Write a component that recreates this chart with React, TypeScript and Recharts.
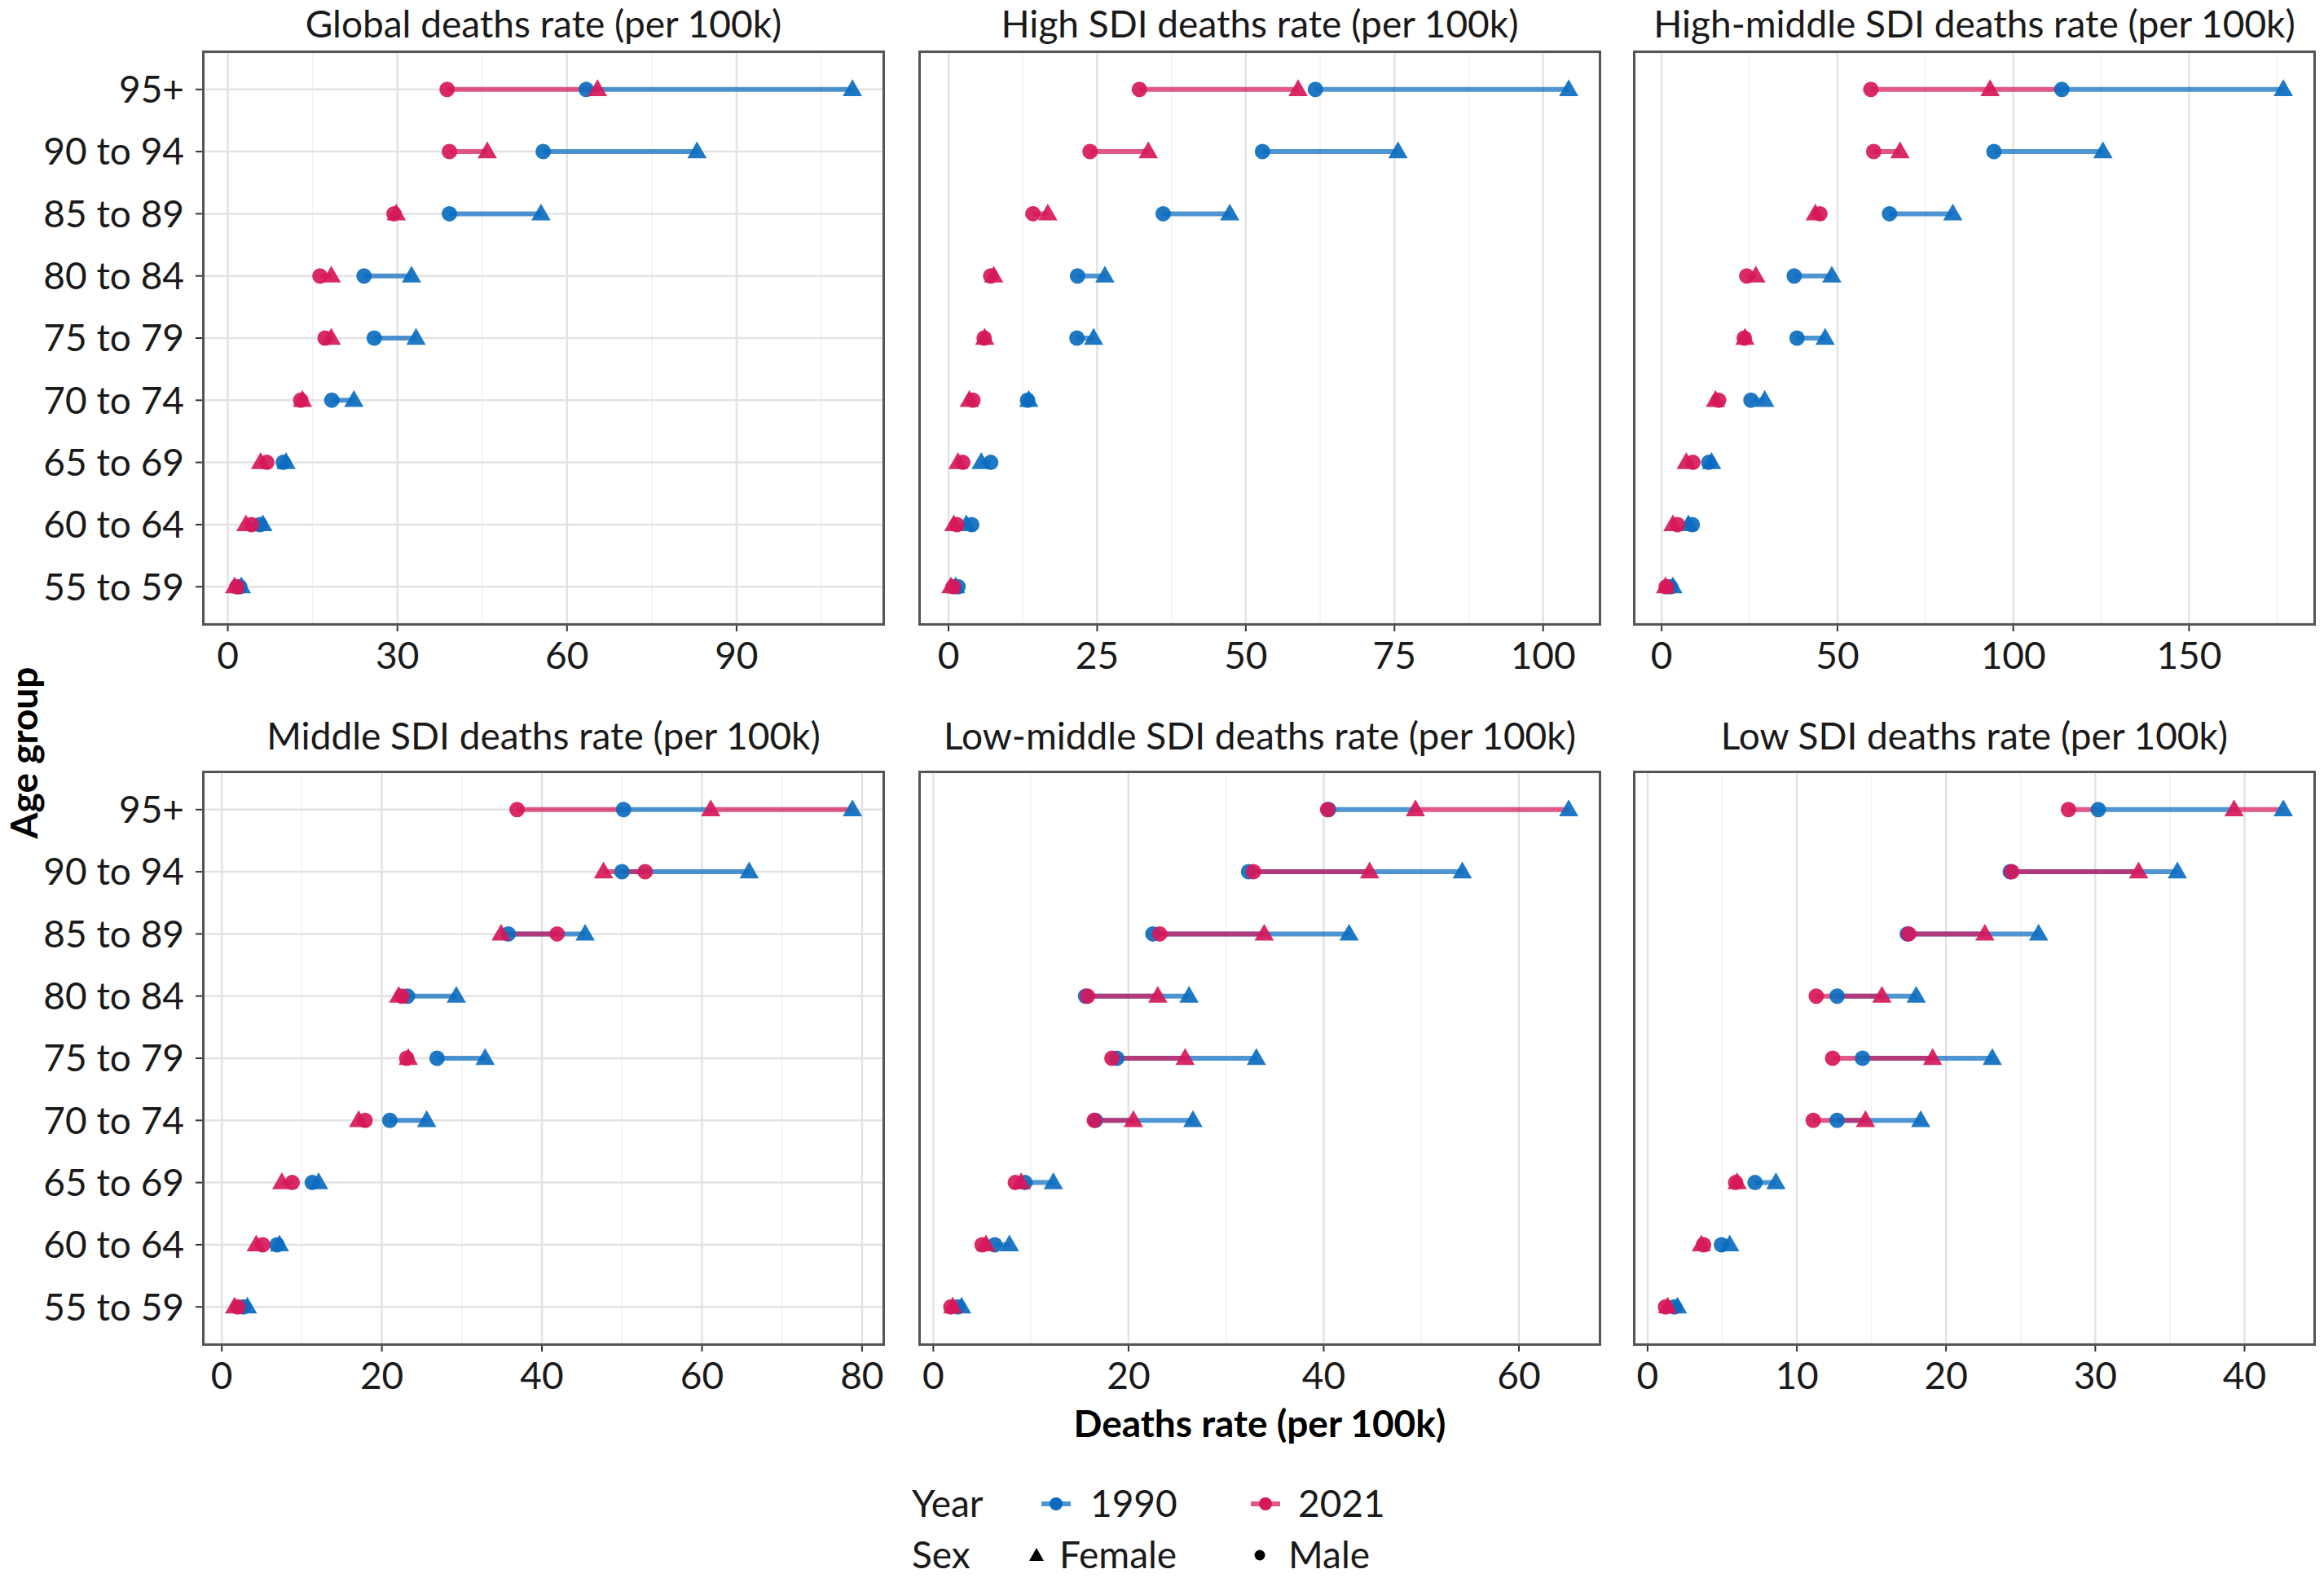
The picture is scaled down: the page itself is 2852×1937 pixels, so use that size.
import React from "react";
import { ScatterChart, Scatter, XAxis, YAxis, CartesianGrid } from "recharts";

// Deaths rate per 100k by age group, 95+ first
const AGE_GROUPS = ["95+", "90 to 94", "85 to 89", "80 to 84", "75 to 79", "70 to 74", "65 to 69", "60 to 64", "55 to 59"];

const GLOBAL_M1990 = [63.4, 55.8, 39.2, 24.1, 25.9, 18.4, 9.8, 5.7, 2.1];
const GLOBAL_F1990 = [110.5, 83.0, 55.4, 32.5, 33.3, 22.3, 10.3, 6.2, 2.4];
const GLOBAL_M2021 = [38.8, 39.2, 29.4, 16.3, 17.2, 12.9, 6.9, 4.2, 1.6];
const GLOBAL_F2021 = [65.4, 45.9, 29.8, 18.3, 18.3, 13.2, 5.8, 3.2, 1.2];

const HIGH_M1990 = [61.7, 52.8, 36.1, 21.7, 21.6, 13.3, 7.1, 3.9, 1.6];
const HIGH_F1990 = [104.3, 75.6, 47.3, 26.3, 24.4, 13.5, 5.5, 3.0, 1.2];
const HIGH_M2021 = [32.1, 23.8, 14.2, 7.1, 6.0, 4.1, 2.4, 1.4, 0.8];
const HIGH_F2021 = [58.8, 33.6, 16.7, 7.6, 6.1, 3.5, 1.6, 0.9, 0.4];

const HIGHMID_M1990 = [113.8, 94.5, 64.8, 37.7, 38.5, 25.4, 13.4, 8.7, 2.5];
const HIGHMID_F1990 = [176.8, 125.5, 82.8, 48.4, 46.5, 29.3, 14.2, 7.6, 3.2];
const HIGHMID_M2021 = [59.5, 60.3, 45.0, 24.2, 23.5, 16.2, 8.9, 4.5, 1.3];
const HIGHMID_F2021 = [93.4, 67.8, 43.7, 26.8, 23.7, 15.3, 7.0, 3.2, 1.1];

const MID_M1990 = [50.2, 50.0, 35.8, 23.2, 26.9, 21.0, 11.3, 6.9, 2.7];
const MID_F1990 = [78.8, 65.9, 45.4, 29.3, 32.9, 25.6, 12.1, 7.2, 3.2];
const MID_M2021 = [36.9, 52.9, 41.9, 22.5, 23.1, 17.9, 8.8, 5.1, 2.0];
const MID_F2021 = [61.1, 47.7, 34.9, 22.1, 23.3, 17.1, 7.5, 4.3, 1.6];

const LOWMID_M1990 = [40.5, 32.3, 22.5, 15.6, 18.8, 16.6, 9.4, 6.3, 2.5];
const LOWMID_F1990 = [65.1, 54.2, 42.6, 26.2, 33.1, 26.6, 12.3, 7.8, 2.9];
const LOWMID_M2021 = [40.4, 32.8, 23.2, 15.8, 18.3, 16.5, 8.4, 5.0, 1.8];
const LOWMID_F2021 = [49.4, 44.7, 33.9, 23.0, 25.8, 20.5, 9.0, 5.4, 2.0];

const LOW_M1990 = [30.2, 24.3, 17.4, 12.7, 14.4, 12.7, 7.2, 4.95, 1.8];
const LOW_F1990 = [42.6, 35.5, 26.2, 18.0, 23.1, 18.3, 8.6, 5.5, 2.0];
const LOW_M2021 = [28.2, 24.4, 17.5, 11.3, 12.4, 11.1, 5.9, 3.75, 1.2];
const LOW_F2021 = [39.3, 32.9, 22.6, 15.7, 19.1, 14.6, 6.0, 3.6, 1.35];

const GLOBAL_TICKS = [0, 30, 60, 90];
const GLOBAL_MINOR = [15, 45, 75, 105];
const HIGH_TICKS = [0, 25, 50, 75, 100];
const HIGH_MINOR = [12.5, 37.5, 62.5, 87.5];
const HIGHMID_TICKS = [0, 50, 100, 150];
const HIGHMID_MINOR = [25, 75, 125, 175];
const MID_TICKS = [0, 20, 40, 60, 80];
const MID_MINOR = [10, 30, 50, 70];
const LOWMID_TICKS = [0, 20, 40, 60];
const LOWMID_MINOR = [10, 30, 50];
const LOW_TICKS = [0, 10, 20, 30, 40];
const LOW_MINOR = [5, 15, 25, 35];

type Key = "m90" | "f90" | "m21" | "f21";
type Year = "1990" | "2021";
type Link = [Key, Key, Year];

// connecting segments as drawn in the figure; most rows join male and female of a year
const DEFAULT_LINKS: Link[] = [["m90", "f90", "1990"], ["m21", "f21", "2021"]];
const HIGHMID_LINKS: Record<number, Link[]> = { 0: [["m21", "m90", "2021"], ["m90", "f90", "1990"]] };
const MID_LINKS: Record<number, Link[]> = { 0: [["m21", "m90", "2021"], ["m90", "f21", "1990"], ["f21", "f90", "2021"]] };
const LOWMID_LINKS: Record<number, Link[]> = { 0: [["m90", "f21", "1990"], ["f21", "f90", "2021"]] };
const LOW_LINKS: Record<number, Link[]> = { 0: [["m21", "m90", "2021"], ["m90", "f21", "1990"], ["f21", "f90", "2021"]] };

const BLUE = "#0b6cbf";
const PINK = "#d6185a";
const YEAR_COLOR: Record<Year, string> = { "1990": BLUE, "2021": PINK };
const FONT = "Lato, 'Open Sans', sans-serif";
const FS = 46;

const COL_LEFT = [250, 1129, 2006];
const ROW_TOP = [64, 948];
const BOX_W = 834;
const BOX_H = 702;
const AXIS_W = 250;
const PAD_T = 10;
const PAD_R = 10;
const X_AXIS_H = 70;

interface PanelDef {
  title: string;
  m90: number[];
  f90: number[];
  m21: number[];
  f21: number[];
  ticks: number[];
  minor: number[];
  links: Record<number, Link[]>;
  col: number;
  row: number;
}

const PANELS: PanelDef[] = [
  { title: "Global deaths rate (per 100k)", m90: GLOBAL_M1990, f90: GLOBAL_F1990, m21: GLOBAL_M2021, f21: GLOBAL_F2021, ticks: GLOBAL_TICKS, minor: GLOBAL_MINOR, links: {}, col: 0, row: 0 },
  { title: "High SDI deaths rate (per 100k)", m90: HIGH_M1990, f90: HIGH_F1990, m21: HIGH_M2021, f21: HIGH_F2021, ticks: HIGH_TICKS, minor: HIGH_MINOR, links: {}, col: 1, row: 0 },
  { title: "High-middle SDI deaths rate (per 100k)", m90: HIGHMID_M1990, f90: HIGHMID_F1990, m21: HIGHMID_M2021, f21: HIGHMID_F2021, ticks: HIGHMID_TICKS, minor: HIGHMID_MINOR, links: HIGHMID_LINKS, col: 2, row: 0 },
  { title: "Middle SDI deaths rate (per 100k)", m90: MID_M1990, f90: MID_F1990, m21: MID_M2021, f21: MID_F2021, ticks: MID_TICKS, minor: MID_MINOR, links: MID_LINKS, col: 0, row: 1 },
  { title: "Low-middle SDI deaths rate (per 100k)", m90: LOWMID_M1990, f90: LOWMID_F1990, m21: LOWMID_M2021, f21: LOWMID_F2021, ticks: LOWMID_TICKS, minor: LOWMID_MINOR, links: LOWMID_LINKS, col: 1, row: 1 },
  { title: "Low SDI deaths rate (per 100k)", m90: LOW_M1990, f90: LOW_F1990, m21: LOW_M2021, f21: LOW_F2021, ticks: LOW_TICKS, minor: LOW_MINOR, links: LOW_LINKS, col: 2, row: 1 },
];

const circleShape = (color: string) => (props: any) =>
  <circle cx={props.cx} cy={props.cy} r={9.5} fill={color} fillOpacity={0.92} />;

const triangleShape = (color: string) => (props: any) => {
  const { cx, cy } = props;
  const s = 12.5;
  return (
    <polygon
      points={`${cx},${cy - s} ${cx - s * 0.95},${cy + s * 0.65} ${cx + s * 0.95},${cy + s * 0.65}`}
      fill={color}
      fillOpacity={0.92}
    />
  );
};

const noShape = () => <g />;

function Panel({ p }: { p: PanelDef }) {
  const all = [...p.m90, ...p.f90, ...p.m21, ...p.f21];
  const lo = Math.min(...all);
  const hi = Math.max(...all);
  const pad = (hi - lo) * 0.05;
  const domain: [number, number] = [lo - pad, hi + pad];
  const cols: Record<Key, number[]> = { m90: p.m90, f90: p.f90, m21: p.m21, f21: p.f21 };
  const series = (k: Key) => cols[k].map((x, i) => ({ x, y: i }));
  const segments = AGE_GROUPS.flatMap((_, i) =>
    (p.links[i] ?? DEFAULT_LINKS).map(([a, b, yr], j) => ({
      id: `${i}-${j}`,
      year: yr,
      data: [{ x: cols[a][i], y: i }, { x: cols[b][i], y: i }],
    }))
  );
  const showY = p.col === 0;
  const left = COL_LEFT[p.col] - AXIS_W;
  const top = ROW_TOP[p.row] - PAD_T;

  return (
    <div style={{ position: "absolute", left, top }}>
      <ScatterChart
        width={AXIS_W + BOX_W + PAD_R}
        height={PAD_T + BOX_H + X_AXIS_H}
        margin={{ top: PAD_T, right: PAD_R, bottom: 0, left: 0 }}
      >
        <XAxis xAxisId="minor" type="number" dataKey="x" domain={domain} ticks={p.minor} allowDataOverflow hide />
        <XAxis
          xAxisId="main"
          type="number"
          dataKey="x"
          domain={domain}
          ticks={p.ticks}
          interval={0}
          allowDataOverflow
          axisLine={false}
          height={X_AXIS_H}
          tickSize={9}
          tickMargin={13}
          tickLine={{ stroke: "#333", strokeWidth: 2 }}
          tick={{ fontSize: FS, fill: "#1a1a1a", fontFamily: FONT }}
        />
        <YAxis
          yAxisId="main"
          type="number"
          dataKey="y"
          domain={[-0.6, 8.6]}
          reversed
          ticks={AGE_GROUPS.map((_, i) => i)}
          interval={0}
          allowDataOverflow
          width={AXIS_W}
          axisLine={false}
          tickSize={10}
          tickMargin={14}
          tickFormatter={(v: number) => AGE_GROUPS[v] ?? ""}
          tickLine={showY ? { stroke: "#333", strokeWidth: 2 } : false}
          tick={showY ? { fontSize: FS, fill: "#1a1a1a", fontFamily: FONT } : false}
        />
        <CartesianGrid xAxisId="minor" yAxisId="main" horizontal={false} stroke="#f2f2f2" strokeWidth={1.5} />
        <CartesianGrid xAxisId="main" yAxisId="main" stroke="#e3e3e3" strokeWidth={2.5} />
        {segments.map((s) => (
          <Scatter
            key={s.id}
            xAxisId="main"
            yAxisId="main"
            data={s.data}
            fill="none"
            line={{ stroke: YEAR_COLOR[s.year], strokeWidth: 6, strokeOpacity: 0.72 }}
            shape={noShape}
            isAnimationActive={false}
          />
        ))}
        <Scatter xAxisId="main" yAxisId="main" data={series("m90")} shape={circleShape(BLUE)} isAnimationActive={false} />
        <Scatter xAxisId="main" yAxisId="main" data={series("f90")} shape={triangleShape(BLUE)} isAnimationActive={false} />
        <Scatter xAxisId="main" yAxisId="main" data={series("m21")} shape={circleShape(PINK)} isAnimationActive={false} />
        <Scatter xAxisId="main" yAxisId="main" data={series("f21")} shape={triangleShape(PINK)} isAnimationActive={false} />
      </ScatterChart>
      <div
        style={{
          position: "absolute",
          left: AXIS_W - 2,
          top: PAD_T - 2,
          width: BOX_W + 4,
          height: BOX_H + 4,
          boxSizing: "border-box",
          border: "3px solid #555",
          pointerEvents: "none",
        }}
      />
    </div>
  );
}

export default function App() {
  const titleBaseline = [46, 920];
  return (
    <div style={{ position: "absolute", left: 0, top: 0, width: 2852, height: 1937, background: "#fff", fontFamily: FONT, overflow: "hidden" }}>
      {PANELS.map((p) => (
        <Panel key={p.title} p={p} />
      ))}
      <svg width={2852} height={1937} style={{ position: "absolute", left: 0, top: 0, pointerEvents: "none" }}>
        {PANELS.map((p) => (
          <text
            key={p.title}
            x={COL_LEFT[p.col] + BOX_W / 2}
            y={titleBaseline[p.row]}
            textAnchor="middle"
            fontSize={FS}
            fontFamily={FONT}
            fill="#1a1a1a"
          >
            {p.title}
          </text>
        ))}
        <text x={46} y={924} transform="rotate(-90, 46, 924)" textAnchor="middle" fontSize={FS} fontWeight={700} fontFamily={FONT} fill="#000">
          Age group
        </text>
        <text x={1546} y={1764} textAnchor="middle" fontSize={FS} fontWeight={700} fontFamily={FONT} fill="#000">
          Deaths rate (per 100k)
        </text>

        <text x={1119} y={1862} fontSize={FS} fontFamily={FONT} fill="#1a1a1a">Year</text>
        <line x1={1278} x2={1314} y1={1846} y2={1846} stroke={BLUE} strokeWidth={6} strokeOpacity={0.72} />
        <circle cx={1296} cy={1846} r={8} fill={BLUE} />
        <text x={1338} y={1862} fontSize={FS} fontFamily={FONT} fill="#1a1a1a">1990</text>
        <line x1={1535} x2={1571} y1={1846} y2={1846} stroke={PINK} strokeWidth={6} strokeOpacity={0.72} />
        <circle cx={1553} cy={1846} r={8} fill={PINK} />
        <text x={1593} y={1862} fontSize={FS} fontFamily={FONT} fill="#1a1a1a">2021</text>

        <text x={1119} y={1925} fontSize={FS} fontFamily={FONT} fill="#1a1a1a">Sex</text>
        <polygon points="1272,1900 1263,1916 1281,1916" fill="#000" />
        <text x={1300} y={1925} fontSize={FS} fontFamily={FONT} fill="#1a1a1a">Female</text>
        <circle cx={1546} cy={1909} r={6.5} fill="#000" />
        <text x={1581} y={1925} fontSize={FS} fontFamily={FONT} fill="#1a1a1a">Male</text>
      </svg>
    </div>
  );
}
